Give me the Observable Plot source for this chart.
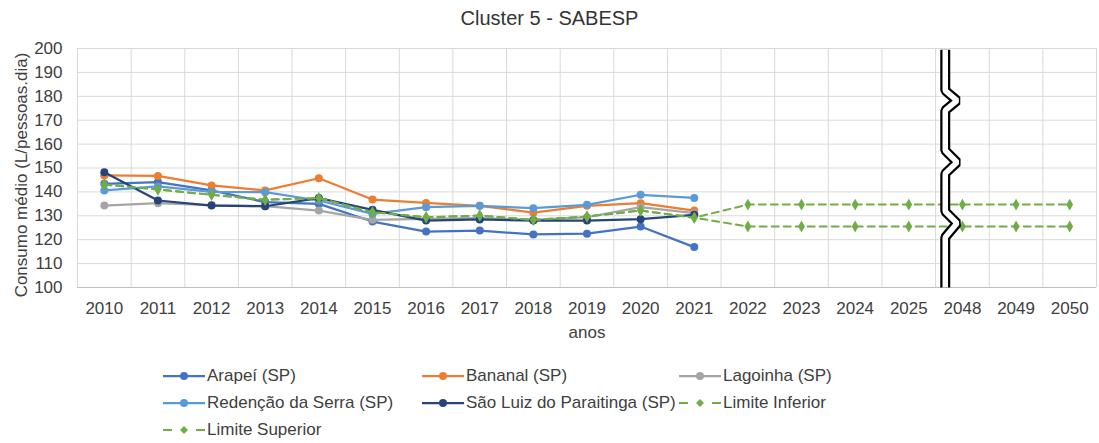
<!DOCTYPE html>
<html><head><meta charset="utf-8">
<script src="https://cdn.jsdelivr.net/npm/d3@7"></script>
<script src="https://cdn.jsdelivr.net/npm/@observablehq/plot@0.6"></script>
<style>
body{margin:0;background:#fff;font-family:"Liberation Sans",Arial,sans-serif;color:#404040;}
#wrap{width:1099px;height:443px;position:relative;overflow:hidden;background:#fff}
#title{height:36px;line-height:36px;text-align:center;font-size:20px;color:#333}
#chart svg{display:block}
#legend{position:absolute;left:163px;top:362px;display:grid;grid-template-columns:259px 257px 260px;grid-auto-rows:27px;font-size:17px;color:#404040}
.item{display:flex;align-items:center;white-space:nowrap}
.item svg{margin-right:2px;flex:none}
</style>
</head><body>
<div id="wrap">
<div id="title">Cluster 5 - SABESP</div>
<div id="chart"></div>
<div id="legend"></div>
</div>
<script>
const years = ["2010","2011","2012","2013","2014","2015","2016","2017","2018","2019","2020","2021","2022","2023","2024","2025","2048","2049","2050"];
const yTicks = [100,110,120,130,140,150,160,170,180,190,200];

const arapei   = [143.4,144.1,140.6,135.7,135.0,127.6,123.4,123.8,122.2,122.5,125.5,116.9];
const bananal  = [146.9,146.7,142.7,140.6,145.7,136.8,135.4,134.2,131.3,134.2,135.3,132.2];
const lagoinha = [134.3,135.3,134.5,134.0,132.2,128.3,128.7,129.0,128.3,129.4,133.6,131.1];
const redencao = [140.6,142.3,140.0,139.9,136.4,130.8,133.6,134.2,133.2,134.6,138.8,137.5];
const saoLuiz  = [148.2,136.4,134.3,134.0,137.4,132.5,128.0,128.5,128.0,128.0,128.6,130.4];
const limiteInferior = [143.1,141.0,138.8,136.7,137.4,131.5,129.4,130.1,128.3,129.7,132.2,129.2,125.5,125.5,125.5,125.5,125.5,125.5,125.5];
const limiteSuperior = [143.1,141.0,138.8,136.7,137.4,131.5,129.4,130.1,128.3,129.7,132.2,129.2,134.7,134.7,134.7,134.7,134.7,134.7,134.7];

const seriesNames = ["Arapeí (SP)","Bananal (SP)","Lagoinha (SP)","Redenção da Serra (SP)","São Luiz do Paraitinga (SP)","Limite Inferior","Limite Superior"];
const seriesColors = ["#4472C4","#ED7D31","#A5A5A5","#5B9BD5","#264478","#70AD47","#70AD47"];
const seriesValues = [arapei,bananal,lagoinha,redencao,saoLuiz,limiteInferior,limiteSuperior];
const seriesDashed = [false,false,false,false,false,true,true];

// axis break decoration (in index / value units)
const breakShape = [
  {x:15.68,y:199.5},{x:15.68,y:182.4},{x:15.9,y:178.2},{x:15.68,y:174.1},
  {x:15.68,y:157.3},{x:15.9,y:152.4},{x:15.68,y:147.7},
  {x:15.68,y:131.8},{x:15.9,y:126.9},{x:15.68,y:121.0},{x:15.68,y:100}
];

const boundaries = d3.range(years.length + 1).map(i => i - 0.5);

const marks = [
  Plot.ruleY(yTicks.slice(1), {stroke:"#d9d9d9", strokeWidth:1}),
  Plot.ruleX(boundaries, {stroke:"#d9d9d9", strokeWidth:1}),
  Plot.ruleY([yTicks[0]], {stroke:"#bfbfbf", strokeWidth:1})
];

seriesNames.forEach((name, k) => {
  const data = seriesValues[k].map((v, i) => ({x:i, y:v}));
  if (seriesDashed[k]) {
    marks.push(Plot.line(data, {x:"x", y:"y", stroke:seriesColors[k], strokeWidth:2, strokeDasharray:"7,5"}));
    marks.push(Plot.dot(data, {x:"x", y:"y", symbol:"diamond", r:3.6, fill:seriesColors[k], stroke:"none"}));
  } else {
    marks.push(Plot.line(data, {x:"x", y:"y", stroke:seriesColors[k], strokeWidth:2.25}));
    marks.push(Plot.dot(data, {x:"x", y:"y", r:4, fill:seriesColors[k], stroke:"none"}));
  }
});

marks.push(Plot.line(breakShape, {x:"x", y:"y", stroke:"#000", strokeWidth:10, strokeLinejoin:"miter", strokeLinecap:"butt", clip:false}));
marks.push(Plot.line(breakShape, {x:"x", y:"y", stroke:"#fff", strokeWidth:5.5, strokeLinejoin:"miter", strokeLinecap:"butt", clip:false}));

marks.push(Plot.text(["anos"], {frameAnchor:"bottom", dy:50, fontSize:17, fill:"#404040"}));
marks.push(Plot.text(["Consumo médio (L/pessoas.dia)"], {frameAnchor:"left", dx:-56, dy:7, rotate:-90, textAnchor:"middle", fontSize:17, fill:"#404040"}));

const chart = Plot.plot({
  width:1099, height:310,
  marginLeft:77, marginRight:3, marginTop:12, marginBottom:59,
  style:{fontFamily:'"Liberation Sans",Arial,sans-serif', fontSize:"17px", color:"#404040", background:"#fff", overflow:"visible"},
  x:{type:"linear", domain:[-0.5, years.length - 0.5], ticks:d3.range(years.length), tickFormat:i => years[i], tickSize:0, tickPadding:14, label:null},
  y:{domain:[100,200], ticks:yTicks, tickSize:0, tickPadding:15, label:null},
  marks
});
document.getElementById("chart").appendChild(chart);

// legend
const legend = document.getElementById("legend");
seriesNames.forEach((name, k) => {
  const c = seriesColors[k];
  const item = document.createElement("div");
  item.className = "item";
  let sw;
  if (seriesDashed[k]) {
    sw = `<svg width="42" height="14"><line x1="0" y1="7" x2="9" y2="7" stroke="${c}" stroke-width="2"/><line x1="33" y1="7" x2="42" y2="7" stroke="${c}" stroke-width="2"/><path d="M21,3 L25,7 L21,11 L17,7 Z" fill="${c}"/></svg>`;
  } else {
    sw = `<svg width="42" height="14"><line x1="0" y1="7" x2="42" y2="7" stroke="${c}" stroke-width="2.25"/><circle cx="21" cy="7" r="4" fill="${c}"/></svg>`;
  }
  item.innerHTML = sw + `<span>${name}</span>`;
  legend.appendChild(item);
});
</script>
</body></html>
